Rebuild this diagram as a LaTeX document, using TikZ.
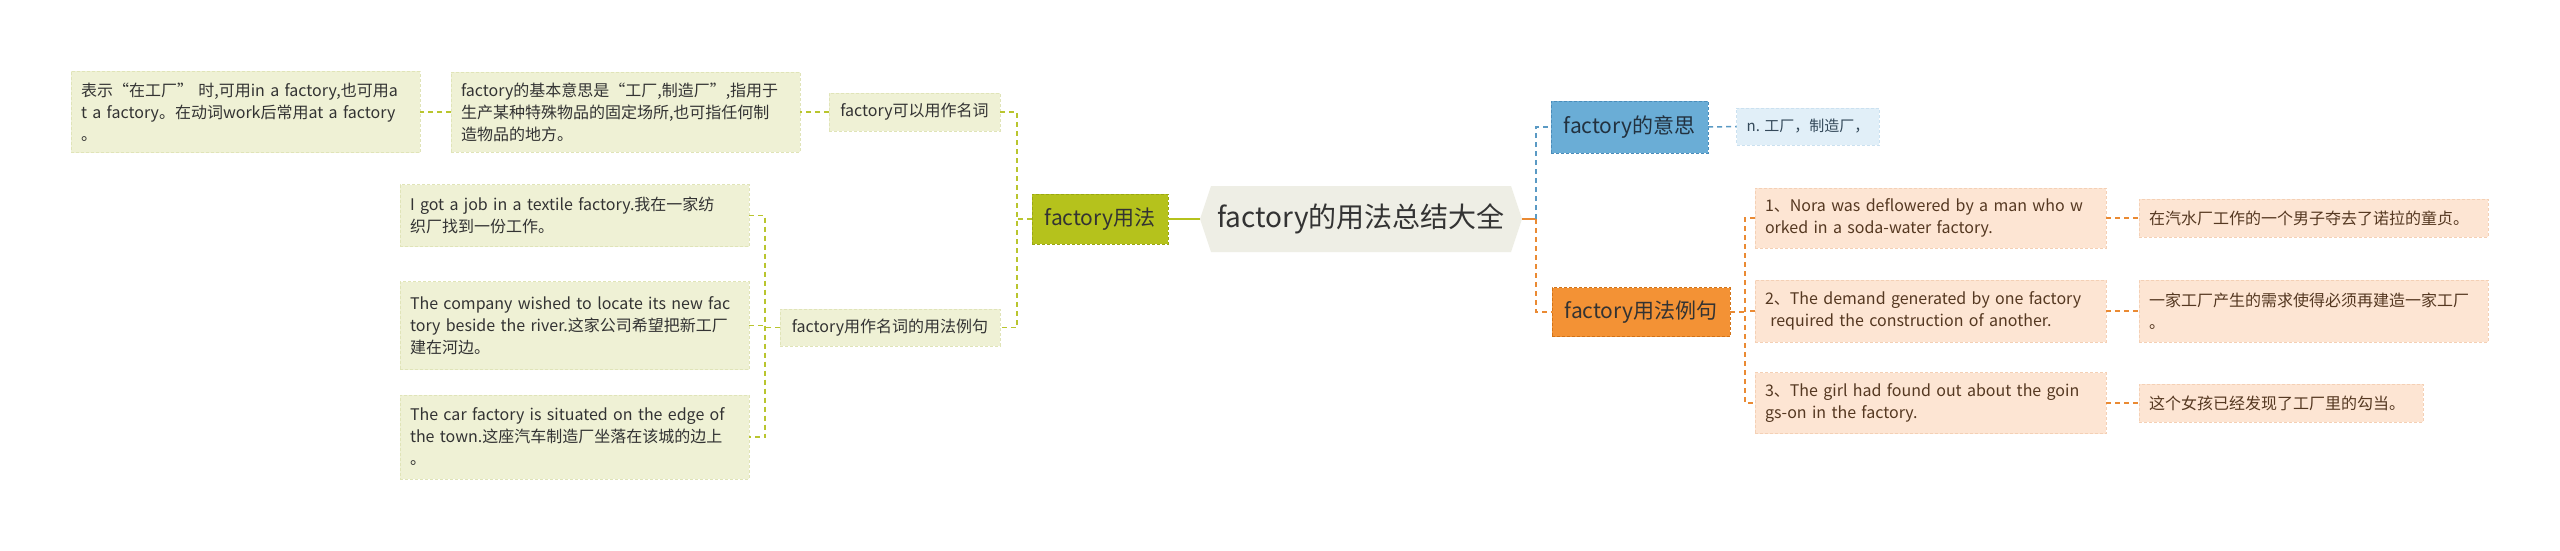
\documentclass[tikz,border=0pt]{standalone}
\usepackage{fontspec}
\setmainfont{Noto Sans CJK SC}
\definecolor{gfill}{HTML}{EFF1D5}
\definecolor{gline}{HTML}{E0E4B8}
\definecolor{gcon}{HTML}{B9C52E}
\definecolor{olivefill}{HTML}{B5C21C}
\definecolor{oliveline}{HTML}{9AA812}
\definecolor{hexfill}{HTML}{EEEEE5}
\definecolor{bluefill}{HTML}{6AADD6}
\definecolor{blueline}{HTML}{4A8DBA}
\definecolor{lbfill}{HTML}{E1EFF8}
\definecolor{lbline}{HTML}{CBE1F0}
\definecolor{bcon}{HTML}{5A9AC4}
\definecolor{orfill}{HTML}{F39235}
\definecolor{orline}{HTML}{D27317}
\definecolor{pcfill}{HTML}{FDE5D3}
\definecolor{pcline}{HTML}{F4D0B5}
\definecolor{ocon}{HTML}{EA8A33}
\definecolor{txtdark}{HTML}{333333}
\definecolor{txtbrown}{HTML}{553821}
\definecolor{txtslate}{HTML}{34495A}
\definecolor{txtnavy}{HTML}{22313F}
\begin{document}
\begin{tikzpicture}[x=1pt,y=-1pt,
  every node/.style={outer sep=0pt},
  box/.style={rectangle, draw, dash pattern=on 3pt off 2pt, line width=0.8pt,
    inner xsep=10pt, inner ysep=0pt, align=left,
    font=\fontsize{16}{22}\selectfont},
  gbox/.style={box, fill=gfill, draw=gline, text=txtdark},
  pbox/.style={box, fill=pcfill, draw=pcline, text=txtbrown},
  lbbox/.style={box, fill=lbfill, draw=lbline, text=txtslate, font=\fontsize{15}{20}\selectfont},
  midbox/.style={rectangle, draw, dash pattern=on 3pt off 2pt, line width=1pt,
    inner xsep=8pt, inner ysep=0pt, font=\fontsize{21}{25}\selectfont},
  gcn/.style={draw=gcon, line width=1.5pt, dash pattern=on 5pt off 4pt},
  bcn/.style={draw=bcon, line width=1.5pt, dash pattern=on 5pt off 4pt},
  ocn/.style={draw=ocon, line width=1.5pt, dash pattern=on 5pt off 4pt},
]
\useasboundingbox[fill=white] (0,0) rectangle (2560,551);

% centre hexagon
\fill[hexfill] (1200,219) -- (1211,186) -- (1511,186) -- (1522,219) -- (1511,252) -- (1211,252) -- cycle;
\node[minimum width=322pt, minimum height=66pt, inner sep=0pt, text=txtdark,
  font=\fontsize{28}{32}\selectfont] (root) at (1361,219) {factory的用法总结大全};

% left branch
\node[midbox, fill=olivefill, draw=oliveline, text=txtdark, minimum width=136pt, minimum height=50pt]
  (usage) at (1100,219) {factory用法};
\node[gbox, minimum width=171pt, minimum height=38pt] (b3) at (914.5,112) {factory可以用作名词};
\node[gbox, minimum width=349pt, minimum height=80pt, text width=329pt] (b2) at (625.5,112)
  {\mbox{factory的基本意思是“工厂,制造厂”,指用于}\\\mbox{生产某种特殊物品的固定场所,也可指任何制}\\\mbox{造物品的地方。}};
\node[gbox, minimum width=349pt, minimum height=81pt, text width=329pt] (b1) at (245.5,112)
  {\mbox{表示“在工厂” 时,可用in a factory,也可用a}\\\mbox{t a factory。在动词work后常用at a factory}\\\mbox{。}};
\node[gbox, minimum width=220pt, minimum height=37pt] (ex) at (890,327.5) {factory用作名词的用法例句};
\node[gbox, minimum width=349pt, minimum height=62pt, text width=329pt] (s1) at (574.5,215.5)
  {\mbox{I got a job in a textile factory.我在一家纺}\\\mbox{织厂找到一份工作。}};
\node[gbox, minimum width=349pt, minimum height=88pt, text width=329pt] (s2) at (574.5,325.5)
  {\mbox{The company wished to locate its new fac}\\\mbox{tory beside the river.这家公司希望把新工厂}\\\mbox{建在河边。}};
\node[gbox, minimum width=349pt, minimum height=84pt, text width=329pt] (s3) at (574.5,437)
  {\mbox{The car factory is situated on the edge of}\\\mbox{the town.这座汽车制造厂坐落在该城的边上}\\\mbox{。}};

% right branch
\node[midbox, fill=bluefill, draw=blueline, text=txtnavy, minimum width=157pt, minimum height=52pt]
  (mean) at (1629.5,127) {factory的意思};
\node[lbbox, minimum width=138pt, minimum height=37pt] (mdef) at (1808,126.5) {n. 工厂，制造厂，};
\node[midbox, fill=orfill, draw=orline, text=txtdark, minimum width=178pt, minimum height=49pt]
  (sent) at (1641,312) {factory用法例句};
\node[pbox, minimum width=351pt, minimum height=60pt, text width=331pt] (e1) at (1930.5,218)
  {\mbox{1、Nora was deflowered by a man who w}\\\mbox{orked in a soda-water factory.}};
\node[pbox, minimum width=351pt, minimum height=62pt, text width=331pt] (e2) at (1930.5,311)
  {\mbox{2、The demand generated by one factory}\\\mbox{ required the construction of another.}};
\node[pbox, minimum width=351pt, minimum height=61pt, text width=331pt] (e3) at (1930.5,403)
  {\mbox{3、The girl had found out about the goin}\\\mbox{gs-on in the factory.}};
\node[pbox, minimum width=349pt, minimum height=38pt, text width=329pt] (t1) at (2313.5,218)
  {在汽水厂工作的一个男子夺去了诺拉的童贞。};
\node[pbox, minimum width=349pt, minimum height=62pt, text width=329pt] (t2) at (2313.5,311)
  {\mbox{一家工厂产生的需求使得必须再建造一家工厂}\\\mbox{。}};
\node[pbox, minimum width=284pt, minimum height=38pt, text width=264pt] (t3) at (2281,403)
  {这个女孩已经发现了工厂里的勾当。};

% junction coordinates
\coordinate (jU) at (1017,219);
\coordinate (jE) at (765,327.5);
\coordinate (jR) at (1536,219);
\coordinate (jS) at (1745,312);

% connectors left
\draw[draw=olivefill, line width=2pt] (root.west) -- (usage.east);
\draw[gcn] (usage.west) -- (jU);
\draw[gcn] (b3.east) -- (b3.east -| jU) -- (ex.east -| jU) -- (ex.east);
\draw[gcn] (b3.west) -- (b2.east);
\draw[gcn] (b2.west) -- (b1.east);
\draw[gcn] (ex.west) -- (jE);
\draw[gcn] (s1.east) -- (s1.east -| jE) -- (s3.east -| jE) -- (s3.east);
\draw[gcn] (s2.east) -- (s2.east -| jE);

% connectors right
\draw[draw=ocon, line width=2pt] (root.east) -- (jR);
\draw[bcn] (jR) -- (jR |- mean.west) -- (mean.west);
\draw[ocn] (jR) -- (jR |- sent.west) -- (sent.west);
\draw[bcn] (mean.east) -- (mdef.west);
\draw[ocn] (sent.east) -- (jS);
\draw[ocn] (e1.west) -- (e1.west -| jS) -- (e3.west -| jS) -- (e3.west);
\draw[ocn] (e2.west) -- (e2.west -| jS);
\draw[ocn] (e1.east) -- (t1.west);
\draw[ocn] (e2.east) -- (t2.west);
\draw[ocn] (e3.east) -- (t3.west);
\end{tikzpicture}
\end{document}
